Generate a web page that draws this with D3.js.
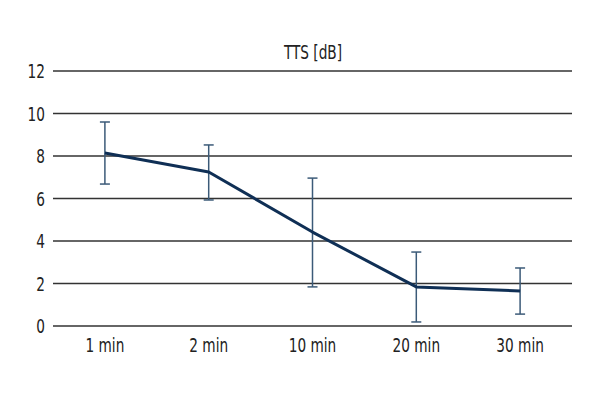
<!DOCTYPE html>
<html>
<head>
<meta charset="utf-8">
<script src="https://cdn.jsdelivr.net/npm/d3@7"></script>
<style>
  body { margin: 0; background: #fff; }
  svg text { font-family: "DejaVu Sans Condensed", "Liberation Sans Narrow", sans-serif; font-stretch: condensed; fill: #222; }
</style>
</head>
<body>
<div id="chart"></div>
<script>
"use strict";

const categories = ["1 min", "2 min", "10 min", "20 min", "30 min"];
const means = [8.14, 7.25, 4.42, 1.84, 1.65];
const upper = [9.6, 8.52, 6.96, 3.48, 2.73];
const lower = [6.68, 5.93, 1.84, 0.19, 0.56];
const yTicks = [0, 2, 4, 6, 8, 10, 12];

const width = 600, height = 400;
const margin = { top: 71, right: 28, bottom: 74, left: 53 };
const fontSize = 19;
const squeeze = 0.8; // narrow glyphs like the condensed original

const svg = d3.select("#chart").append("svg")
  .attr("width", width)
  .attr("height", height);

const x = d3.scaleBand()
  .domain(categories)
  .range([margin.left, width - margin.right]);

const y = d3.scaleLinear()
  .domain([0, 12])
  .range([height - margin.bottom, margin.top]);

const place = (px, py) => "translate(" + px + "," + py + ") scale(" + squeeze + ",1)";

// Title
svg.append("text")
  .attr("transform", place(313, 59))
  .attr("text-anchor", "middle")
  .attr("font-size", fontSize + "px")
  .text("TTS [dB]");

// Gridlines
svg.append("g")
  .selectAll("line")
  .data(yTicks)
  .join("line")
  .attr("x1", margin.left)
  .attr("x2", width - margin.right)
  .attr("y1", d => y(d))
  .attr("y2", d => y(d))
  .attr("stroke", "#333")
  .attr("stroke-width", 1.3);

// Y axis labels
svg.append("g")
  .selectAll("text")
  .data(yTicks)
  .join("text")
  .attr("transform", d => place(45, y(d) + 7))
  .attr("text-anchor", "end")
  .attr("font-size", fontSize + "px")
  .text(d => d);

// X axis labels
svg.append("g")
  .selectAll("text")
  .data(categories)
  .join("text")
  .attr("transform", d => place(x(d) + x.bandwidth() / 2, 352))
  .attr("text-anchor", "middle")
  .attr("font-size", fontSize + "px")
  .text(d => d);

const cx = (d, i) => x(categories[i]) + x.bandwidth() / 2;

// Error bars
let eb = svg.append("g")
  .attr("stroke", "#3b5a78")
  .attr("stroke-width", 1.5);

eb.selectAll(".stem")
  .data(means)
  .join("line")
  .attr("x1", cx).attr("x2", cx)
  .attr("y1", (d, i) => y(upper[i]))
  .attr("y2", (d, i) => y(lower[i]));

eb.selectAll(".capTop")
  .data(means)
  .join("line")
  .attr("x1", (d, i) => cx(d, i) - 5).attr("x2", (d, i) => cx(d, i) + 5)
  .attr("y1", (d, i) => y(upper[i]))
  .attr("y2", (d, i) => y(upper[i]));

eb.selectAll(".capBot")
  .data(means)
  .join("line")
  .attr("x1", (d, i) => cx(d, i) - 5).attr("x2", (d, i) => cx(d, i) + 5)
  .attr("y1", (d, i) => y(lower[i]))
  .attr("y2", (d, i) => y(lower[i]));

// Mean line
const line = d3.line()
  .x((d, i) => cx(d, i))
  .y(d => y(d));

svg.append("path")
  .datum(means)
  .attr("d", line)
  .attr("fill", "none")
  .attr("stroke", "#0f2f55")
  .attr("stroke-width", 3)
  .attr("stroke-linejoin", "round");
</script>
</body>
</html>
